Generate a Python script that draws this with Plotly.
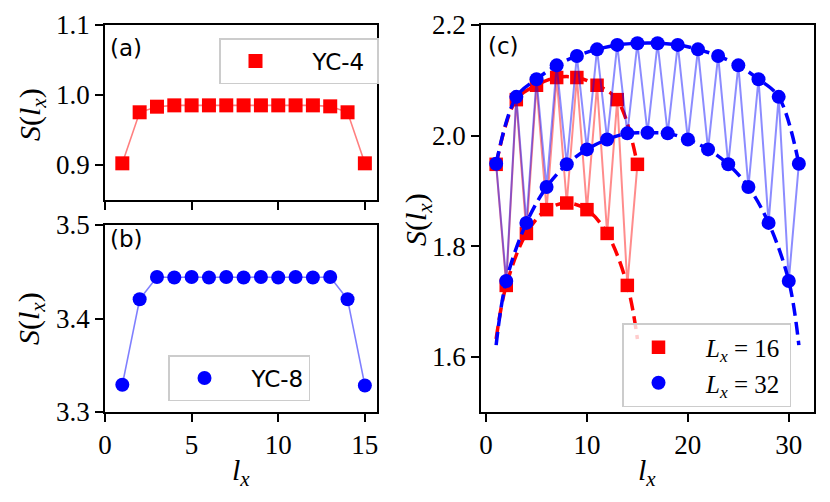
import plotly.graph_objects as go

# ---------------- data ----------------
lx15 = list(range(1, 16))
s_yc4 = [0.9024, 0.9753, 0.9833, 0.9852, 0.9852, 0.9852, 0.9852, 0.9852,
         0.9852, 0.9852, 0.9852, 0.9852, 0.9838, 0.9753, 0.9024]
s_yc8 = [3.3291, 3.4206, 3.4444, 3.4438, 3.4444, 3.4438, 3.4444, 3.4438,
         3.4444, 3.4438, 3.4444, 3.4438, 3.4444, 3.4206, 3.3284]

lx16 = list(range(1, 16))
s_L16 = [1.948, 1.729, 2.065, 1.823, 2.091, 1.866, 2.105, 1.878,
         2.105, 1.866, 2.091, 1.823, 2.065, 1.729, 1.948]
lx32 = list(range(1, 32))
s_L32 = [1.949, 1.737, 2.070, 1.842, 2.102, 1.907, 2.127, 1.948,
         2.144, 1.975, 2.156, 1.993, 2.164, 2.004, 2.167, 2.005,
         2.167, 2.004, 2.164, 1.993, 2.156, 1.975, 2.144, 1.948,
         2.127, 1.907, 2.102, 1.842, 2.070, 1.737, 1.949]

# fitted (dashed) curves
fit16_odd_x = [1, 3, 5, 7, 9, 11, 13, 15]
fit16_odd_y = [1.948, 2.065, 2.091, 2.105, 2.105, 2.091, 2.065, 1.948]
fit16_even_x = [1, 2, 4, 6, 8, 10, 12, 14, 15]
fit16_even_y = [1.632, 1.729, 1.823, 1.866, 1.878, 1.866, 1.823, 1.729, 1.632]
fit32_odd_x = list(range(1, 32, 2))
fit32_odd_y = [1.949, 2.070, 2.102, 2.127, 2.144, 2.156, 2.164, 2.167,
               2.167, 2.164, 2.156, 2.144, 2.127, 2.102, 2.070, 1.949]
fit32_even_x = [1] + list(range(2, 31, 2)) + [31]
fit32_even_y = [1.621, 1.737, 1.842, 1.907, 1.948, 1.975, 1.993, 2.004, 2.005,
                2.004, 1.993, 1.975, 1.948, 1.907, 1.842, 1.737, 1.621]

labels_ab = ["YC-4", "YC-8"]
labels_c = ["<i>L<sub>x</sub></i> = 16", "<i>L<sub>x</sub></i> = 32"]
ytitle = "<i>S</i>(<i>l<sub>x</sub></i>)"
xtitle = "<i>l<sub>x</sub></i>"

RED = "#ff0000"
BLUE = "#0000ff"
RED_T = "rgba(255,0,0,0.45)"
BLUE_T = "rgba(0,0,255,0.45)"
SERIF = "Liberation Serif"
SANS = "DejaVu Sans"
DASH = "13px,6px"
NB = "\u00a0"
TH = "\u2009"

fig = go.Figure()

# ---- panel (a)
fig.add_trace(go.Scatter(x=lx15, y=s_yc4, mode="lines", line=dict(color="rgba(255,0,0,0.5)", width=1.6),
                         xaxis="x", yaxis="y", showlegend=False, hoverinfo="skip"))
fig.add_trace(go.Scatter(x=lx15, y=s_yc4, mode="markers", name=NB * 3 + labels_ab[0] + NB,
                         marker=dict(symbol="square", size=14, color=RED),
                         xaxis="x", yaxis="y", legend="legend"))
# ---- panel (b)
fig.add_trace(go.Scatter(x=lx15, y=s_yc8, mode="lines", line=dict(color="rgba(0,0,255,0.5)", width=1.6),
                         xaxis="x2", yaxis="y2", showlegend=False, hoverinfo="skip"))
fig.add_trace(go.Scatter(x=lx15, y=s_yc8, mode="markers", name=NB + TH + labels_ab[1],
                         marker=dict(symbol="circle", size=14, color=BLUE),
                         xaxis="x2", yaxis="y2", legend="legend2"))

# ---- panel (c) red
fig.add_trace(go.Scatter(x=lx16, y=s_L16, mode="lines", line=dict(color=RED_T, width=2),
                         xaxis="x3", yaxis="y3", showlegend=False, hoverinfo="skip"))
fig.add_trace(go.Scatter(x=lx16, y=s_L16, mode="markers", name=NB * 2 + labels_c[0] + TH,
                         marker=dict(symbol="square", size=13.5, color=RED),
                         xaxis="x3", yaxis="y3", legend="legend3"))
for fx, fy in [(fit16_odd_x, fit16_odd_y), (fit16_even_x, fit16_even_y)]:
    fig.add_trace(go.Scatter(x=fx, y=fy, mode="lines",
                             line=dict(color=RED, width=3.5, dash=DASH, shape="spline"),
                             xaxis="x3", yaxis="y3", showlegend=False, hoverinfo="skip"))
# ---- panel (c) blue
fig.add_trace(go.Scatter(x=lx32, y=s_L32, mode="lines", line=dict(color=BLUE_T, width=2),
                         xaxis="x3", yaxis="y3", showlegend=False, hoverinfo="skip"))
for fx, fy in [(fit32_odd_x, fit32_odd_y), (fit32_even_x, fit32_even_y)]:
    fig.add_trace(go.Scatter(x=fx, y=fy, mode="lines",
                             line=dict(color=BLUE, width=3.5, dash=DASH, shape="spline"),
                             xaxis="x3", yaxis="y3", showlegend=False, hoverinfo="skip"))
fig.add_trace(go.Scatter(x=lx32, y=s_L32, mode="markers", name=NB * 2 + labels_c[1] + TH,
                         marker=dict(symbol="circle", size=14, color=BLUE),
                         xaxis="x3", yaxis="y3", legend="legend3"))

W, H = 830, 502
def xd(a, b):
    return [a / W, b / W]
def yd(top, bot):
    return [1 - bot / H, 1 - top / H]
def px(x):
    return x / W
def py(y):
    return 1 - y / H

axis_common = dict(showgrid=False, zeroline=False, showline=True, linecolor="black",
                   linewidth=1.8, mirror=True, ticks="outside", ticklen=8, tickwidth=1.5,
                   tickcolor="black", automargin=False,
                   tickfont=dict(family=SERIF, size=27, color="black"))

tfont = dict(family=SERIF, size=30, color="black")
lfont = dict(family=SANS, size=23, color="black")

legend_common = dict(bgcolor="rgba(255,255,255,0.8)", bordercolor="#cccccc", borderwidth=1.5,
                     itemwidth=60, xanchor="left", yanchor="top", tracegroupgap=0)

def ann(text, x, y, font, angle=0, xanchor="center"):
    return dict(text=text, x=px(x), y=py(y), xref="paper", yref="paper", xanchor=xanchor,
                yanchor="middle", showarrow=False, font=font, textangle=angle)

fig.update_layout(
    template="none",
    width=W, height=H, autosize=False,
    margin=dict(l=0, r=0, t=0, b=0),
    plot_bgcolor="white", paper_bgcolor="white",
    xaxis=dict(axis_common, domain=xd(105, 377), range=[0, 15.7], anchor="y",
               tickvals=[0, 5, 10, 15], showticklabels=False),
    yaxis=dict(axis_common, domain=yd(25, 200), range=[0.85, 1.1], anchor="x",
               tickvals=[0.9, 1.0, 1.1], ticktext=["0.9", "1.0", "1.1"]),
    xaxis2=dict(axis_common, domain=xd(105, 377), range=[0, 15.7], anchor="y2",
                tickvals=[0, 5, 10, 15]),
    yaxis2=dict(axis_common, domain=yd(225, 412), range=[3.3, 3.5], anchor="x2",
                tickvals=[3.3, 3.4, 3.5], ticktext=["3.3", "3.4", "3.5"]),
    xaxis3=dict(axis_common, domain=xd(481, 814), range=[-0.5, 32.5], anchor="y3",
                tickvals=[0, 10, 20, 30]),
    yaxis3=dict(axis_common, domain=yd(25, 412), range=[1.5, 2.2], anchor="x3",
                tickvals=[1.6, 1.8, 2.0, 2.2], ticktext=["1.6", "1.8", "2.0", "2.2"]),
    legend=dict(legend_common, x=px(219), y=py(38), font=lfont),
    legend2=dict(legend_common, x=px(168), y=py(355), font=lfont),
    legend3=dict(legend_common, x=px(622), y=py(323), font=dict(family=SERIF, size=25, color="black")),
    annotations=[
        ann("(a)", 108, 48, lfont, xanchor="left"),
        ann("(b)", 108, 239, lfont, xanchor="left"),
        ann("(c)", 486, 46, lfont, xanchor="left"),
        ann(ytitle, 32, 115, tfont, angle=-90),
        ann(ytitle, 31, 319, tfont, angle=-90),
        ann(ytitle, 418, 220, tfont, angle=-90),
        ann(xtitle, 241, 472, tfont),
        ann(xtitle, 647, 472, tfont),
    ],
)

fig.write_html("out.html", config={"displayModeBar": False},
               post_script="document.body.style.margin='0';")
